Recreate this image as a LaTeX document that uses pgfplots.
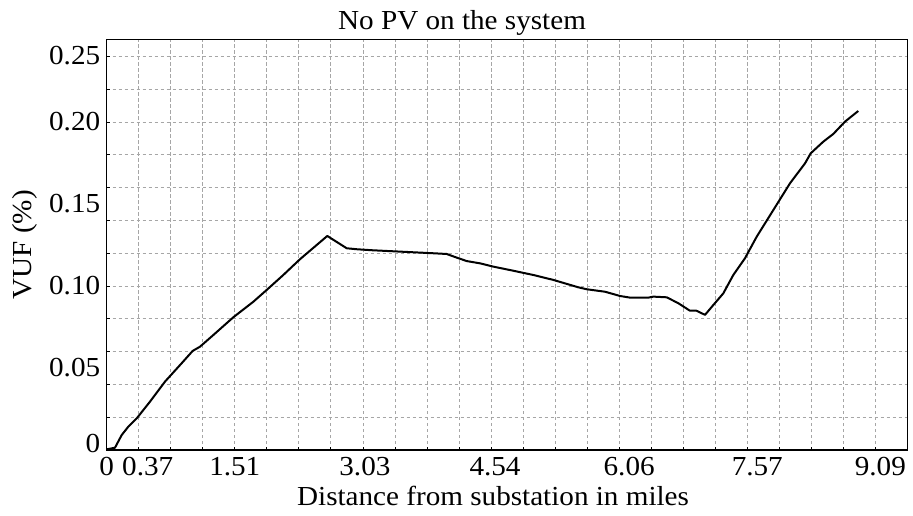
\documentclass[border=0pt]{standalone}
\usepackage{fontspec}
\setmainfont{Liberation Serif}[FakeStretch=1.06]
\usepackage{pgfplots}
\pgfplotsset{compat=1.18}

% VUF profile along the feeder, no PV connected
\pgfplotstableread{
dist   vuf
0.000  0.0004
0.098  0.0014
0.177  0.0091
0.255  0.0142
0.355  0.0193
0.512  0.0295
0.689  0.0417
0.886  0.0529
1.016  0.0604
1.103  0.0630
1.260  0.0701
1.496  0.0809
1.733  0.0904
1.891  0.0976
2.087  0.1067
2.284  0.1163
2.482  0.1250
2.607  0.1305
2.836  0.1230
2.955  0.1224
3.132  0.1218
3.368  0.1212
3.643  0.1205
3.880  0.1199
4.018  0.1195
4.136  0.1173
4.254  0.1152
4.412  0.1138
4.569  0.1118
4.805  0.1093
5.042  0.1067
5.278  0.1037
5.573  0.0992
5.673  0.0980
5.889  0.0965
6.066  0.0939
6.185  0.0929
6.401  0.0929
6.460  0.0935
6.618  0.0931
6.755  0.0895
6.893  0.0849
6.970  0.0849
7.071  0.0824
7.169  0.0884
7.287  0.0955
7.405  0.1067
7.543  0.1169
7.682  0.1301
7.878  0.1463
8.075  0.1626
8.253  0.1748
8.320  0.1809
8.469  0.1880
8.587  0.1927
8.725  0.2002
8.882  0.2067
}\vuftable

\begin{document}
\begin{tikzpicture}[font=\fontsize{27.5bp}{33bp}\selectfont]
\begin{axis}[
  scale only axis,
  width=800.7bp, height=410.7bp,
  xmin=0, xmax=9.4625,
  ymin=0, ymax=0.2504,
  axis line style={line width=1.1bp},
  xtick={0,0.3785,1.514,3.028,4.542,6.056,7.57,9.084},
  xticklabels={0,
    \hspace*{18bp}0.37,
    1.51,
    \hspace*{4bp}3.03,
    \hspace*{8bp}4.54,
    \hspace*{20bp}6.06,
    \hspace*{20bp}7.57,
    \hspace*{10bp}9.09},
  ytick={0,0.05,0.1,0.15,0.2,0.25},
  yticklabels={\raisebox{7bp}[\height][\depth]{0},
    0.05, 0.10, 0.15, 0.20,
    \raisebox{-16bp}[\height][\depth]{0.25}},
  minor xtick={0.3785,0.757,1.1355,1.514,1.8925,2.271,2.6495,3.028,3.4065,3.785,
    4.1635,4.542,4.9205,5.299,5.6775,6.056,6.4345,6.813,7.1915,7.57,
    7.9485,8.327,8.7055,9.084},
  minor ytick={0.02,0.04,0.06,0.08,0.10,0.12,0.14,0.16,0.18,0.20,0.22,0.24},
  xminorgrids, yminorgrids,
  minor grid style={gray!70, line width=0.8bp, dash pattern=on 3.5bp off 2.5bp},
  tick align=inside,
  xtick pos=bottom, ytick pos=left,
  major tick length=0pt, minor tick length=3bp,
  tick style={black, line width=0.8bp},
  xticklabel style={yshift=-4bp},
  yticklabel style={xshift=-3bp},
  xlabel={Distance from substation in miles},
  ylabel={VUF (\%)},
  title={No PV on the system},
  title style={xshift=-45bp, yshift=-6bp},
  xlabel style={xshift=-14bp, yshift=-3bp},
  ylabel style={yshift=5bp},
]
\addplot[black, line width=2bp, line join=round] table[x=dist, y=vuf] {\vuftable};
\end{axis}
\path (-106.7bp,-66bp) rectangle (806.3bp,450bp);
\end{tikzpicture}
\end{document}
